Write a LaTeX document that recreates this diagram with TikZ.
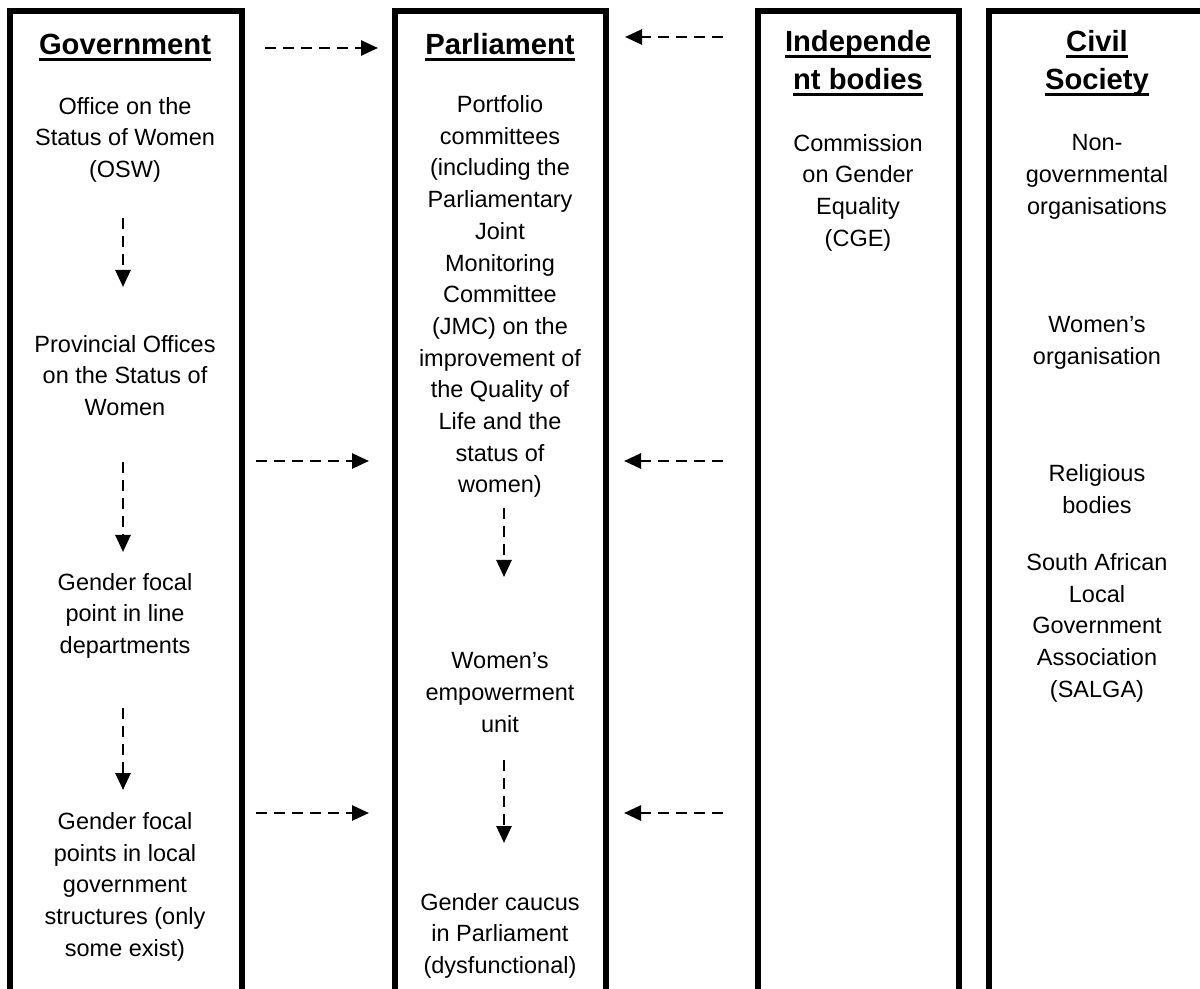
\documentclass[tikz,border=0pt]{standalone}
\usepackage{fontspec}
\setmainfont{Liberation Sans}
\usetikzlibrary{arrows.meta}
\newcommand\hdul[1]{\setbox0=\hbox{#1}\rlap{\rule[-3pt]{\wd0}{1.5pt}}\box0}

\begin{document}
\begin{tikzpicture}[
  x=0.5pt, y=-0.5pt,
  colbox/.style={draw, line width=3pt},
  txt/.style={align=center, inner sep=0pt, font=\fontsize{11.75pt}{15.85pt}\selectfont,
    execute at begin node=\strut, execute at end node=\strut},
  hd/.style={txt, font=\fontsize{14.6pt}{19pt}\selectfont\bfseries},
  arr/.style={-{Triangle[length=8.5pt,width=7.5pt]}, line width=1.3pt,
    dash pattern=on 5.5pt off 3.5pt}
]
\useasboundingbox (0,0) rectangle (1200,989);
\clip (0,0) rectangle (1200,989);

% columns
\draw[colbox] (10,11) rectangle (242,1010);
\draw[colbox] (395,11) rectangle (606,1010);
\draw[colbox] (758,11) rectangle (959,1010);
\draw[colbox] (989,11) rectangle (1215,1010);

% government
\node[hd] (govh) at (125,47) {\hdul{Government}};
\node[txt] (osw) at (125,142) {Office on the\\Status of Women\\(OSW)};
\node[txt] (prov) at (125,380) {Provincial Offices\\on the Status of\\Women};
\node[txt] (focal) at (125,618) {Gender focal\\point in line\\departments};
\node[txt] (local) at (125,889) {Gender focal\\points in local\\government\\structures (only\\some exist)};

% parliament
\node[hd] (parlh) at (500,47) {\hdul{Parliament}};
\node[txt] (port) at (500,299) {Portfolio\\committees\\(including the\\Parliamentary\\Joint\\Monitoring\\Committee\\(JMC) on the\\improvement of\\the Quality of\\Life and the\\status of\\women)};
\node[txt] (weu) at (500,697) {Women’s\\empowerment\\unit};
\node[txt] (caucus) at (500,938) {Gender caucus\\in Parliament\\(dysfunctional)};

% independent bodies
\node[hd] (indh) at (858,66) {\hdul{Independe}\\\hdul{nt bodies}};
\node[txt] (cge) at (858,195) {Commission\\on Gender\\Equality\\(CGE)};

% civil society
\node[hd] (civh) at (1097,66) {\hdul{Civil}\\\hdul{Society}};
\node[txt] (ngo) at (1097,179) {Non-\\governmental\\organisations};
\node[txt] (worg) at (1097,345) {Women’s\\organisation};
\node[txt] (relig) at (1097,494) {Religious\\bodies};
\node[txt] (salga) at (1097,630) {South African\\Local\\Government\\Association\\(SALGA)};

% arrow ends
\coordinate (g1a) at (123,218); \coordinate (g1b) at (123,287);
\coordinate (g2a) at (123,462); \coordinate (g2b) at (123,552);
\coordinate (g3a) at (123,708); \coordinate (g3b) at (123,790);
\coordinate (p1a) at (504,508); \coordinate (p1b) at (504,577);
\coordinate (p2a) at (504,760); \coordinate (p2b) at (504,843);
\coordinate (gp1a) at (265,48); \coordinate (gp1b) at (378,48);
\coordinate (gp2a) at (256,461); \coordinate (gp2b) at (369,461);
\coordinate (gp3a) at (256,813); \coordinate (gp3b) at (369,813);
\coordinate (ip1a) at (723,37); \coordinate (ip1b) at (625,37);
\coordinate (ip2a) at (723,461); \coordinate (ip2b) at (624,461);
\coordinate (ip3a) at (723,813); \coordinate (ip3b) at (624,813);

\draw[arr] (g1a) -- (g1b);
\draw[arr] (g2a) -- (g2b);
\draw[arr] (g3a) -- (g3b);
\draw[arr] (p1a) -- (p1b);
\draw[arr] (p2a) -- (p2b);
\draw[arr] (gp1a) -- (gp1b);
\draw[arr] (gp2a) -- (gp2b);
\draw[arr] (gp3a) -- (gp3b);
\draw[arr] (ip1a) -- (ip1b);
\draw[arr] (ip2a) -- (ip2b);
\draw[arr] (ip3a) -- (ip3b);
\end{tikzpicture}
\end{document}
